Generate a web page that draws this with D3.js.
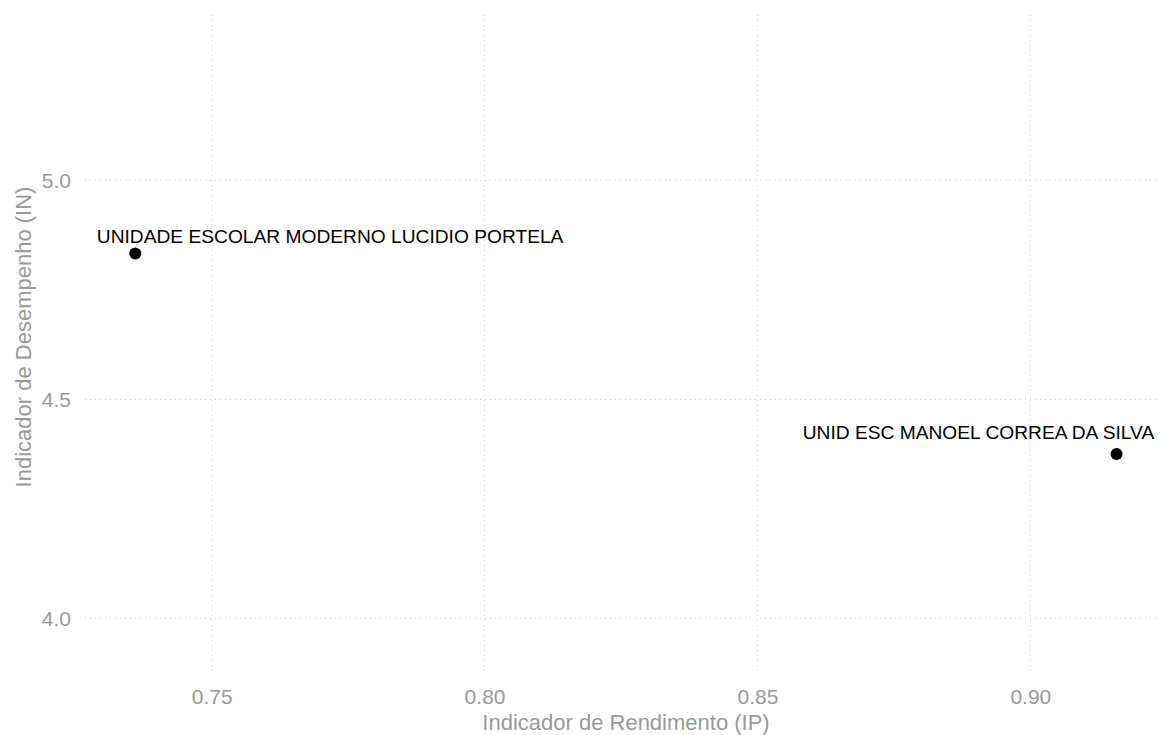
<!DOCTYPE html>
<html>
<head>
<meta charset="utf-8">
<script src="https://cdn.jsdelivr.net/npm/d3@7"></script>
<style>
  html, body { margin: 0; padding: 0; background: #fff; }
  svg { display: block; font-family: "Liberation Sans", Arial, Helvetica, sans-serif; }
</style>
</head>
<body>
<svg id="chart" width="1160" height="735"></svg>
<script>
// Data
const schools = ["UNIDADE ESCOLAR MODERNO LUCIDIO PORTELA", "UNID ESC MANOEL CORREA DA SILVA"];
const ipValues = [0.7360, 0.9158];
const inValues = [4.833, 4.375];
// label anchor positions (data units)
const labelIP = [0.7717, 0.8905];
const labelIN = [4.858, 4.410];
const xTicks = [0.75, 0.80, 0.85, 0.90];
const yTicks = [4.0, 4.5, 5.0];
const xTitle = "Indicador de Rendimento (IP)";
const yTitle = "Indicador de Desempenho (IN)";

const svg = d3.select("#chart");
const panel = { left: 85, right: 1157, top: 15, bottom: 675 };

const x = d3.scaleLinear().domain([0.72679, 0.92321]).range([panel.left, panel.right]);
const y = d3.scaleLinear().domain([3.8706, 5.3774]).range([panel.bottom, panel.top]);

const gridColor = "#c4c4c4";
const textGray = "#999999";

// Grid lines
svg.append("g").selectAll("line").data(xTicks).join("line")
  .attr("x1", d => x(d)).attr("x2", d => x(d))
  .attr("y1", panel.top).attr("y2", panel.bottom)
  .attr("stroke", gridColor).attr("stroke-width", 1)
  .attr("stroke-dasharray", "1,4");
svg.append("g").selectAll("line").data(yTicks).join("line")
  .attr("y1", d => y(d)).attr("y2", d => y(d))
  .attr("x1", panel.left).attr("x2", panel.right)
  .attr("stroke", gridColor).attr("stroke-width", 1)
  .attr("stroke-dasharray", "1,4");

// Axes (labels only)
const xAxis = d3.axisBottom(x).tickValues(xTicks).tickFormat(d3.format(".2f")).tickSize(0).tickPadding(0);
const gx = svg.append("g").attr("transform", `translate(0,689)`).call(xAxis);
gx.select(".domain").remove();
gx.selectAll("text").attr("fill", textGray).attr("font-size", 21)
  .attr("font-family", "'Liberation Sans', Arial, sans-serif");

const yAxis = d3.axisLeft(y).tickValues(yTicks).tickFormat(d3.format(".1f")).tickSize(0).tickPadding(0);
const gy = svg.append("g").attr("transform", `translate(71,0)`).call(yAxis);
gy.select(".domain").remove();
gy.selectAll("text").attr("fill", textGray).attr("font-size", 21)
  .attr("font-family", "'Liberation Sans', Arial, sans-serif");

// Axis titles
svg.append("text")
  .attr("x", (panel.left + panel.right) / 2 + 5).attr("y", 730)
  .attr("text-anchor", "middle").attr("fill", textGray).attr("font-size", 22)
  .text(xTitle);
svg.append("text")
  .attr("transform", `translate(31,${(panel.top + panel.bottom) / 2 - 8}) rotate(-90)`)
  .attr("text-anchor", "middle").attr("fill", textGray).attr("font-size", 22)
  .text(yTitle);

// Points
const data = schools.map((s, i) => ({ name: s, ip: ipValues[i], in: inValues[i], lx: labelIP[i], ly: labelIN[i] }));
svg.append("g").selectAll("circle").data(data).join("circle")
  .attr("cx", d => x(d.ip)).attr("cy", d => y(d.in))
  .attr("r", 6).attr("fill", "#000");

// Labels
svg.append("g").selectAll("text").data(data).join("text")
  .attr("x", d => x(d.lx)).attr("y", d => y(d.ly))
  .attr("text-anchor", "middle").attr("fill", "#000").attr("font-size", 19.2)
  .text(d => d.name);
</script>
</body>
</html>
